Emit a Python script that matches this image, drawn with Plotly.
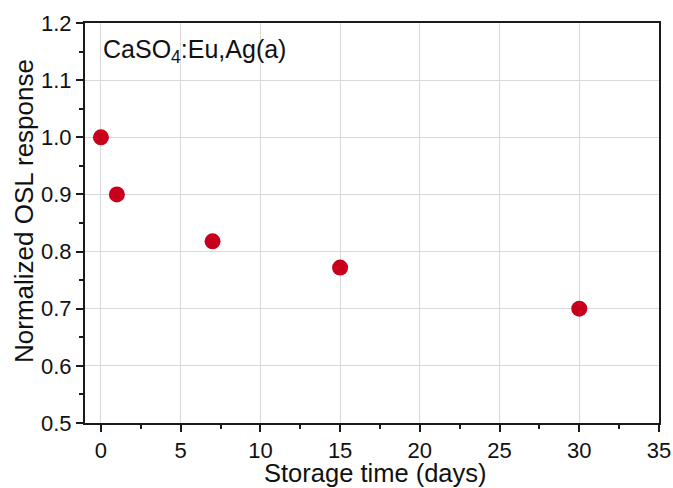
import plotly.graph_objects as go

storage_days = [0, 1, 7, 15, 30]
osl_response = [1.0, 0.90, 0.818, 0.772, 0.70]
x_ticks = [0, 5, 10, 15, 20, 25, 30, 35]
y_ticks = [0.5, 0.6, 0.7, 0.8, 0.9, 1.0, 1.1, 1.2]
y_tick_labels = ["0.5", "0.6", "0.7", "0.8", "0.9", "1.0", "1.1", "1.2"]

FONT = "Liberation Sans, Arial, sans-serif"

fig = go.Figure()
fig.add_trace(go.Scatter(
    x=storage_days, y=osl_response, mode="markers",
    marker=dict(size=16, color="#c8001c", line=dict(width=0)),
    showlegend=False,
))

axis_common = dict(
    showline=True, linecolor="#1a1a1a", linewidth=2, mirror=True,
    showgrid=True, gridcolor="#d9d9d9", gridwidth=1,
    zeroline=False, ticks="outside", ticklen=7, tickwidth=1.5, tickcolor="#1a1a1a",
    tickfont=dict(family=FONT, size=22, color="#111"),
    automargin=False,
)

fig.update_xaxes(
    range=[-1, 35], tickvals=x_ticks,
    minor=dict(ticks="outside", ticklen=4, tickwidth=1.5, tickcolor="#1a1a1a", dtick=2.5, tick0=0, showgrid=False),
    **axis_common,
)
fig.update_yaxes(
    range=[0.5, 1.2], tickvals=y_ticks, ticktext=y_tick_labels,
    minor=dict(ticks="outside", ticklen=4, tickwidth=1.5, tickcolor="#1a1a1a", dtick=0.05, tick0=0.5, showgrid=False),
    **axis_common,
)

# axis titles
fig.add_annotation(
    xref="paper", yref="paper", x=0.506, y=0, yshift=-50, xanchor="center", yanchor="middle",
    text="Storage time (days)", showarrow=False,
    font=dict(family=FONT, size=25.5, color="#111"),
)
fig.add_annotation(
    xref="paper", yref="paper", x=0, xshift=-61, y=0.53, xanchor="center", yanchor="middle",
    text="Normalized OSL response", showarrow=False, textangle=-90,
    font=dict(family=FONT, size=26, color="#111"),
)

fig.add_annotation(
    xref="paper", yref="paper", x=0.028, y=0.93, xanchor="left", yanchor="middle",
    text="CaSO<sub>4</sub>:Eu,Ag(a)", showarrow=False,
    font=dict(family=FONT, size=25, color="#111"),
)

fig.update_layout(
    width=673, height=488,
    margin=dict(l=85, r=14, t=23, b=65),
    paper_bgcolor="white", plot_bgcolor="white",
)

fig.write_html("out.html")
